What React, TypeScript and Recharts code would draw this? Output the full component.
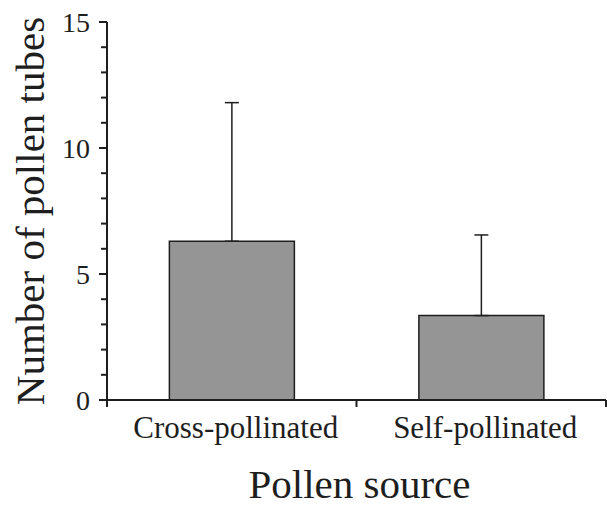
import { BarChart, Bar, XAxis, YAxis, ErrorBar } from "recharts";

const CATEGORIES = ["Cross-pollinated", "Self-pollinated"];
const MEANS = [6.3, 3.35];
const UPPER_ERR = [5.5, 3.2];
const Y_TICKS = [0, 1, 2, 3, 4, 5, 6, 7, 8, 9, 10, 11, 12, 13, 14, 15];

const FONT = '"Liberation Serif", "Times New Roman", serif';
const INK = "#1e1e1e";

const data = CATEGORIES.map((name, i) => ({
  name,
  mean: MEANS[i],
  err: [0, UPPER_ERR[i]],
}));

function YTick(props: any) {
  const { x, y, payload } = props;
  const major = payload.value % 5 === 0;
  return (
    <g>
      <line x1={x - (major ? 8 : 6)} x2={x} y1={y} y2={y} stroke={INK} strokeWidth={2} />
      {major && (
        <text x={x - 17} y={y} dy="0.35em" textAnchor="end" fontSize={28} fontFamily={FONT} fill={INK}>
          {payload.value}
        </text>
      )}
    </g>
  );
}

// category label plus tick marks on the band edges (half a band either side of the centre)
function CatTick(props: any) {
  const { x, y, payload, index } = props;
  const half = payload.offset || 0;
  const last = index === CATEGORIES.length - 1;
  return (
    <g>
      {half > 0 && <line x1={x - half} x2={x - half} y1={y} y2={y + 7} stroke={INK} strokeWidth={2} />}
      {half > 0 && last && <line x1={x + half} x2={x + half} y1={y} y2={y + 7} stroke={INK} strokeWidth={2} />}
      <text x={x + 4} y={y + 38} textAnchor="middle" fontSize={31} fontFamily={FONT} fill={INK}>
        {payload.value}
      </text>
    </g>
  );
}

function YLabel(props: any) {
  const vb = props.viewBox;
  return (
    <text
      transform={`translate(44, ${vb.y + vb.height / 2}) rotate(-90)`}
      textAnchor="middle"
      fontSize={41}
      fontFamily={FONT}
      fill={INK}
    >
      Number of pollen tubes
    </text>
  );
}

function XLabel(props: any) {
  const vb = props.viewBox;
  return (
    <text x={vb.x + vb.width / 2 + 3} y={498} textAnchor="middle" fontSize={41} fontFamily={FONT} fill={INK}>
      Pollen source
    </text>
  );
}

export default function App() {
  return (
    <div style={{ position: "absolute", left: 0, top: 0, background: "#fff" }}>
      <BarChart
        width={607}
        height={507}
        data={data}
        margin={{ top: 22, right: 1, bottom: 0, left: 0 }}
        barCategoryGap="25%"
      >
        <XAxis
          dataKey="name"
          height={107}
          interval={0}
          axisLine={{ stroke: INK, strokeWidth: 2 }}
          tickLine={false}
          tickSize={0}
          tickMargin={0}
          tick={<CatTick />}
          label={<XLabel />}
        />
        <XAxis
          xAxisId="top"
          orientation="top"
          type="number"
          domain={[0, 2]}
          allowDataOverflow
          height={0}
          tick={false}
          tickLine={false}
          axisLine={{ stroke: INK, strokeWidth: 2 }}
        />
        <YAxis
          type="number"
          domain={[0, 15]}
          ticks={Y_TICKS}
          interval={0}
          width={107}
          axisLine={{ stroke: INK, strokeWidth: 2 }}
          tickLine={false}
          tickSize={0}
          tickMargin={0}
          tick={<YTick />}
          label={<YLabel />}
        />
        <YAxis
          yAxisId="right"
          orientation="right"
          type="number"
          domain={[0, 15]}
          allowDataOverflow
          width={0}
          tick={false}
          tickLine={false}
          axisLine={{ stroke: INK, strokeWidth: 2 }}
        />
        <Bar dataKey="mean" fill="#959595" stroke={INK} strokeWidth={1.5} isAnimationActive={false}>
          <ErrorBar dataKey="err" direction="y" width={7} stroke={INK} strokeWidth={1.5} />
        </Bar>
      </BarChart>
    </div>
  );
}
